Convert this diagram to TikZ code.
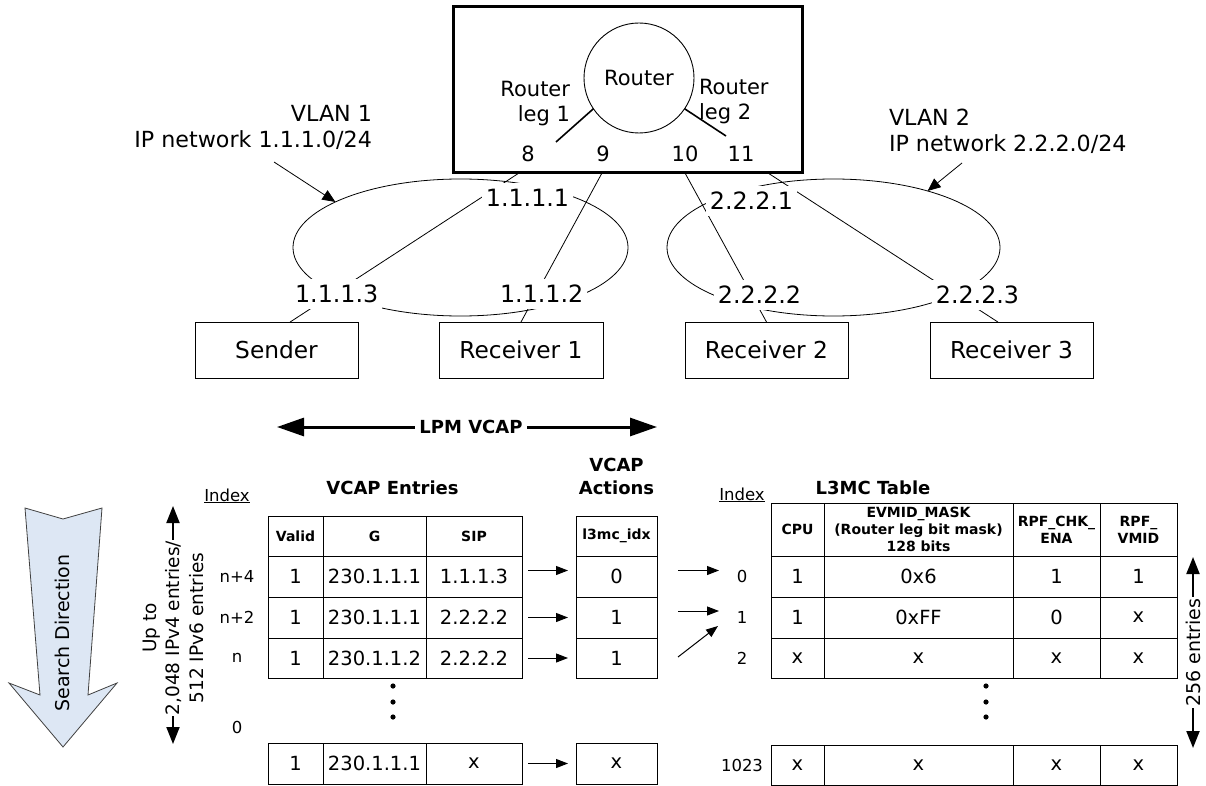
\documentclass[tikz,border=0pt]{standalone}
\usepackage{fontspec}
\setmainfont{DejaVu Sans}
\usetikzlibrary{arrows.meta,shapes.geometric}
\definecolor{sdfill}{RGB}{221,231,244}
\begin{document}
\begin{tikzpicture}[x=1pt,y=-1pt,
  every node/.style={inner sep=0pt,outer sep=0pt},
  lbl/.style={font=\fontsize{21}{25}\selectfont},
  vlbl/.style={font=\fontsize{22.2}{26}\selectfont},
  ipl/.style={font=\fontsize{23.8}{26}\selectfont,fill=white,inner xsep=4pt,minimum height=30pt},
  host/.style={draw,line width=0.9pt,minimum height=56pt,font=\fontsize{23.3}{26}\selectfont},
  conn/.style={line width=0.8pt},
  ptr/.style={line width=0.8pt,-{Triangle[length=13pt,width=11pt]}},
  big/.style={line width=3pt,{Triangle[length=27pt,width=18pt]}-{Triangle[length=27pt,width=18pt]}},
  mid/.style={line width=2pt,{Triangle[length=17pt,width=13pt]}-{Triangle[length=17pt,width=13pt]}},
  sarrow/.style={line width=1pt,-{Triangle[length=12pt,width=9pt]}},
  cell/.style={draw,line width=1pt,font=\fontsize{19.5}{22}\selectfont},
  hdr/.style={draw,line width=1pt,align=center,font=\bfseries\fontsize{14}{17}\selectfont},
  ttl/.style={align=center,font=\bfseries\fontsize{18}{23}\selectfont},
  idx/.style={font=\fontsize{16.5}{19}\selectfont},
]
\useasboundingbox (0,0) rectangle (1206,786);

% ---------- router ----------
\node[draw,line width=3pt,minimum width=349pt,minimum height=166pt] (rbox) at (627.5,90) {};
\node[circle,draw,line width=0.9pt,minimum size=110pt,lbl] (router) at (639,78) {Router};
\coordinate (leg1e) at (556,142);
\coordinate (leg2e) at (726,136);
\draw[line width=1.6pt] (router.214) -- (leg1e);
\draw[line width=1.6pt] (router.326) -- (leg2e);
\node[lbl,align=right,anchor=east] (leg1) at (570,104) {Router\\leg 1};
\node[lbl,align=left,anchor=west] (leg2) at (699,102) {Router\\leg 2};
\node[lbl] (n8) at (528,154) {8};
\node[lbl] (n9) at (603,154) {9};
\node[lbl] (n10) at (685,154) {10};
\node[lbl] (n11) at (741,154) {11};
\coordinate (p8) at (519,173);
\coordinate (p9) at (602,173);
\coordinate (p10) at (685,173);
\coordinate (p11) at (768,173);

% ---------- hosts ----------
\node[host,minimum width=163pt] (sender) at (276.5,350) {Sender};
\node[host,minimum width=164pt] (rec1) at (521,350) {Receiver 1};
\node[host,minimum width=163pt] (rec2) at (766.5,350) {Receiver 2};
\node[host,minimum width=163pt] (rec3) at (1011.5,350) {Receiver 3};

% ---------- VLAN ellipses ----------
\node[ellipse,draw,line width=0.8pt,minimum width=335pt,minimum height=137pt] (vlan1) at (460.5,247.5) {};
\node[ellipse,draw,line width=0.8pt,minimum width=333pt,minimum height=137pt] (vlan2) at (833.5,247.5) {};

\draw[conn] (p8) -- (sender.64);
\draw[conn] (p9) -- (rec1.north);
\draw[conn] (p10) -- (rec2.north);
\draw[conn] (p11) -- (rec3.116);

\node[ipl] (l111) at (527.5,198) {1.1.1.1};
\node[ipl] (l113) at (336.7,293.5) {1.1.1.3};
\node[ipl] (l112) at (541.7,293.5) {1.1.1.2};
\node[ipl] (l221) at (751.5,201) {2.2.2.1};
\node[ipl] (l222) at (759.5,295) {2.2.2.2};
\node[ipl] (l223) at (977.5,295) {2.2.2.3};

\node[vlbl,align=right,anchor=east] (vl1) at (372,127) {VLAN 1\\IP network 1.1.1.0/24};
\node[vlbl,align=left,anchor=west] (vl2) at (889,131) {VLAN 2\\IP network 2.2.2.0/24};
\coordinate (v1s) at (274,162);
\coordinate (v2s) at (962,163);
\draw[ptr] (v1s) -- (vlan1.160);
\draw[ptr] (v2s) -- (vlan2.31);

% ---------- LPM VCAP ----------
\coordinate (lpmL) at (277,427);
\coordinate (lpmR) at (657,427);
\draw[big] (lpmL) -- (lpmR);
\node[fill=white,inner xsep=4pt,inner ysep=2pt,font=\bfseries\fontsize{18}{20}\selectfont] (lpm) at (471,427) {LPM VCAP};

% ---------- search direction ----------
\filldraw[fill=sdfill,draw=black!75,line width=0.8pt]
  (25,508) -- (63,519) -- (102,508) -- (88,695) -- (117,683) -- (63,747) -- (9,683) -- (40,695) -- cycle;
\node[rotate=90,font=\fontsize{19}{22}\selectfont] (sd) at (62,633) {Search Direction};

% ---------- up to arrow ----------
\coordinate (upT) at (173,506);
\coordinate (upB) at (173,744);
\draw[mid] (upB) -- (upT);
\node[rotate=90,align=center,fill=white,inner sep=1pt,font=\fontsize{18.5}{23.5}\selectfont] (upto) at (173,628) {Up to\\2,048 IPv4 entries/\\512 IPv6 entries};

% ---------- titles ----------
\node[ttl] (tent) at (392.5,488) {VCAP Entries};
\node[ttl] (tact) at (616.5,476.5) {VCAP\\Actions};
\node[ttl] (tl3) at (873,488) {L3MC Table};
\node[idx,anchor=base] (ixh1) at (227,501) {\underline{Index}};
\node[idx,anchor=base] (ixh2) at (742,500) {\underline{Index}};

% ---------- VCAP entries + actions ----------
\node[hdr,minimum width=55pt,minimum height=40pt] (hva) at (295.5,536) {Valid};
\node[hdr,minimum width=103pt,minimum height=40pt] (hvg) at (374.5,536) {G};
\node[hdr,minimum width=96pt,minimum height=40pt] (hvs) at (474,536) {SIP};
\node[hdr,minimum width=81pt,minimum height=40pt] (hac) at (616.5,536) {l3mc\_idx};
\foreach \r/\y/\h/\va/\vg/\vs/\vact/\ix in {1/576.5/41/1/230.1.1.1/1.1.1.3/0/n+4, 2/617.5/41/1/230.1.1.1/2.2.2.2/1/n+2, 3/658/40/1/230.1.1.2/2.2.2.2/1/n, 4/763.5/41/1/230.1.1.1/x/x/{}} {
  \node[cell,minimum width=55pt,minimum height=\h pt] (va\r) at (295.5,\y) {\va};
  \node[cell,minimum width=103pt,minimum height=\h pt] (vg\r) at (374.5,\y) {\vg};
  \node[cell,minimum width=96pt,minimum height=\h pt] (vs\r) at (474,\y) {\vs};
  \node[cell,minimum width=81pt,minimum height=\h pt] (ac\r) at (616.5,\y) {\vact};
  \node[idx] (vi\r) at (237,\y) {\ix};
}
\node[idx] (vi0) at (237,727) {0};
\draw[sarrow] ([xshift=6pt,yshift=6pt]vs1.east) -- ([xshift=-8pt,yshift=6pt]ac1.west);
\foreach \r in {2,3,4} \draw[sarrow] ([xshift=6pt]vs\r.east) -- ([xshift=-8pt]ac\r.west);

% dots
\fill (393,686) circle (2.6pt) (393,702) circle (2.6pt) (393,717) circle (2.6pt);
\fill (986,686) circle (2.6pt) (986,702) circle (2.6pt) (986,717) circle (2.6pt);

% ---------- L3MC table ----------
\node[hdr,minimum width=53pt,minimum height=53pt] (hcpu) at (797.5,529.5) {CPU};
\node[hdr,minimum width=189pt,minimum height=53pt] (hev) at (918.5,529.5) {EVMID\_MASK\\(Router leg bit mask)\\128 bits};
\node[hdr,minimum width=87pt,minimum height=53pt] (hena) at (1056.5,529.5) {RPF\_CHK\_\\ENA};
\node[hdr,minimum width=77pt,minimum height=53pt] (hvm) at (1138.5,529.5) {RPF\_\\VMID};
\foreach \r/\y/\h/\a/\b/\c/\d/\ix in {1/576.5/41/1/0x6/1/1/0, 2/617.5/41/1/0xFF/0/x/1, 3/658/40/x/x/x/x/2, 4/765/40/x/x/x/x/1023} {
  \node[cell,minimum width=53pt,minimum height=\h pt] (lc\r) at (797.5,\y) {\a};
  \node[cell,minimum width=189pt,minimum height=\h pt] (le\r) at (918.5,\y) {\b};
  \node[cell,minimum width=87pt,minimum height=\h pt] (ln\r) at (1056.5,\y) {\c};
  \node[cell,minimum width=77pt,minimum height=\h pt] (lv\r) at (1138.5,\y) {\d};
  \node[idx] (li\r) at (742,\y) {\ix};
}
\draw[sarrow] ([xshift=21pt,yshift=6pt]ac1.east) -- ([xshift=-23pt,yshift=6pt]li1.center);
\draw[sarrow] ([xshift=21pt,yshift=6.5pt]ac2.east) -- ([xshift=-23pt,yshift=6.5pt]li2.center);
\draw[sarrow] ([xshift=21pt,yshift=1pt]ac3.east) -- ([xshift=-24pt,yshift=-8.5pt]li2.center);

% ---------- 256 entries ----------
\coordinate (eT) at (1193,557);
\coordinate (eB) at (1193,748);
\draw[mid] (eB) -- (eT);
\node[rotate=90,fill=white,inner sep=1pt,font=\fontsize{19}{22}\selectfont] (e256) at (1193,652.5) {256 entries};
\end{tikzpicture}
\end{document}
